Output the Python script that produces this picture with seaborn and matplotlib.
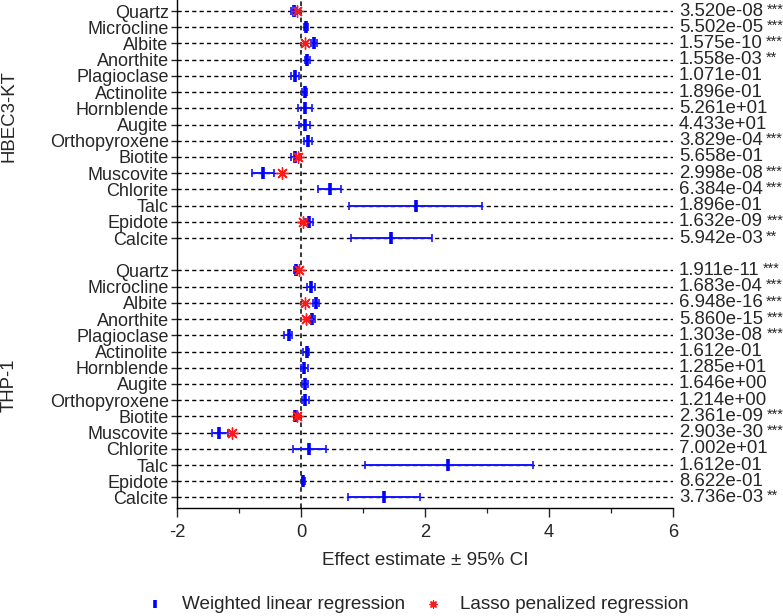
import matplotlib
matplotlib.use("Agg")
import matplotlib.pyplot as plt
from matplotlib.ticker import MultipleLocator
import seaborn as sns
import pandas as pd
import numpy as np

minerals = ['Quartz', 'Microcline', 'Albite', 'Anorthite', 'Plagioclase', 'Actinolite',
            'Hornblende', 'Augite', 'Orthopyroxene', 'Biotite', 'Muscovite', 'Chlorite',
            'Talc', 'Epidote', 'Calcite']
cell_lines = ['HBEC3-KT', 'THP-1']

# weighted linear regression: estimate and 95% CI
hbec_est = [-0.12, 0.08, 0.21, 0.10, -0.10, 0.06, 0.06, 0.06, 0.11, -0.09, -0.61, 0.47, 1.85, 0.13, 1.45]
hbec_lo = [-0.16, 0.05, 0.16, 0.06, -0.16, 0.02, -0.05, -0.03, 0.05, -0.16, -0.79, 0.27, 0.77, 0.06, 0.80]
hbec_hi = [-0.07, 0.11, 0.26, 0.15, -0.04, 0.10, 0.18, 0.15, 0.17, -0.02, -0.43, 0.65, 2.92, 0.19, 2.11]
thp_est = [-0.08, 0.16, 0.24, 0.18, -0.20, 0.09, 0.05, 0.06, 0.07, -0.09, -1.32, 0.13, 2.37, 0.03, 1.34]
thp_lo = [-0.11, 0.10, 0.19, 0.14, -0.27, 0.04, 0.00, 0.02, 0.02, -0.12, -1.43, -0.13, 1.03, 0.01, 0.76]
thp_hi = [-0.05, 0.22, 0.29, 0.23, -0.14, 0.13, 0.11, 0.11, 0.13, -0.05, -1.17, 0.40, 3.74, 0.07, 1.92]

# lasso penalized regression (only where selected)
nan = np.nan
hbec_lasso = [-0.06, nan, 0.06, nan, nan, nan, nan, nan, nan, -0.05, -0.30, nan, nan, 0.04, nan]
thp_lasso = [-0.04, nan, 0.07, 0.08, nan, nan, nan, nan, nan, -0.07, -1.11, nan, nan, nan, nan]

hbec_p = ['3.520e-08', '5.502e-05', '1.575e-10', '1.558e-03', '1.071e-01',
          '1.896e-01', '5.261e+01', '4.433e+01', '3.829e-04', '5.658e-01',
          '2.998e-08', '6.384e-04', '1.896e-01', '1.632e-09', '5.942e-03']
hbec_stars = ['***', '***', '***', '**', '', '', '', '', '***', '', '***', '***', '', '***', '**']
thp_p = ['1.911e-11', '1.683e-04', '6.948e-16', '5.860e-15', '1.303e-08',
         '1.612e-01', '1.285e+01', '1.646e+00', '1.214e+00', '2.361e-09',
         '2.903e-30', '7.002e+01', '1.612e-01', '8.622e-01', '3.736e-03']
thp_stars = ['***', '***', '***', '***', '***', '', '', '', '', '***', '***', '', '', '', '**']

df = pd.DataFrame({
    'cell': np.repeat(cell_lines, len(minerals)),
    'mineral': minerals * 2,
    'est': hbec_est + thp_est,
    'lo': hbec_lo + thp_lo,
    'hi': hbec_hi + thp_hi,
    'lasso': hbec_lasso + thp_lasso,
    'p': hbec_p + thp_p,
    'stars': hbec_stars + thp_stars,
})
# one empty row between the two cell lines
df['row'] = [i for i in range(15)] + [16 + i for i in range(15)]

sns.set_style('ticks')
plt.rcParams['font.family'] = ['Liberation Sans', 'DejaVu Sans']
plt.rcParams['axes.unicode_minus'] = False
fs = 13.6

fig = plt.figure(figsize=(7.83, 6.16), dpi=100)
ax = fig.add_axes([177 / 783, 108 / 616, 496 / 783, 508 / 616])

# dashed guide lines
for r in df['row']:
    ax.axhline(r, color='black', lw=1.0, ls=(0, (3, 2.3)), zorder=0)
ax.axvline(0, color='black', lw=1.1, ls=(0, (3, 2.3)), zorder=0)

ax.errorbar(df['est'], df['row'], xerr=[df['est'] - df['lo'], df['hi'] - df['est']],
            fmt='none', ecolor='#1414ff', elinewidth=1.4, capsize=3.2, capthick=1.2, zorder=2)
sns.scatterplot(data=df, x='est', y='row', ax=ax, marker='|', s=75, color='#0000ff',
                linewidth=2.6, label='Weighted linear regression', zorder=3)
sns.scatterplot(data=df.dropna(subset=['lasso']), x='lasso', y='row', ax=ax,
                marker=(8, 2, 0), s=70, color='#ff1a1a', linewidth=1.0,
                label='Lasso penalized regression', zorder=4)

ax.set_xlim(-2, 6)
ax.set_ylim(30.65, -0.68)
ax.xaxis.set_major_locator(MultipleLocator(2))
ax.xaxis.set_minor_locator(MultipleLocator(1))
ax.set_yticks(df['row'])
ax.set_yticklabels(df['mineral'], fontsize=13)
ax.tick_params(axis='x', labelsize=13.2, length=6.5, width=1, pad=5)
ax.tick_params(axis='x', which='minor', length=3.5, width=0.9)
ax.tick_params(axis='y', length=4, width=1, pad=2)
ax.set_xlabel('Effect estimate ± 95% CI', fontsize=fs, labelpad=8)
ax.set_ylabel('')
for side in ['top', 'right']:
    ax.spines[side].set_visible(False)
for side in ['left', 'bottom']:
    ax.spines[side].set_linewidth(1)
    ax.spines[side].set_color('black')

# p-values on the right, significance stars smaller and raised
for r, txt, st in zip(df['row'], df['p'], df['stars']):
    t = ax.text(1.012, r, txt, transform=ax.get_yaxis_transform(), fontsize=13.4,
                va='center', ha='left', clip_on=False)
    if st:
        ax.annotate(st, xy=(1, 1), xycoords=t, xytext=(2.5, 0), textcoords='offset points',
                    fontsize=10.5, ha='left', va='top', annotation_clip=False)

fig.text(9 / 783, 1 - 116 / 616, 'HBEC3-KT', rotation=90, fontsize=13.4, ha='center', va='center')
fig.text(9 / 783, 1 - 385 / 616, 'THP-1', rotation=90, fontsize=13.4, ha='center', va='center')

ax.get_legend().remove()
handles, labels = ax.get_legend_handles_labels()
fig.legend(handles, labels, loc='center', bbox_to_anchor=(416 / 783, 12 / 616), ncol=2,
           frameon=False, fontsize=fs, handlelength=1.2, handletextpad=0.8,
           columnspacing=0.9, markerscale=0.6)

fig.savefig('out.png', dpi=100)
